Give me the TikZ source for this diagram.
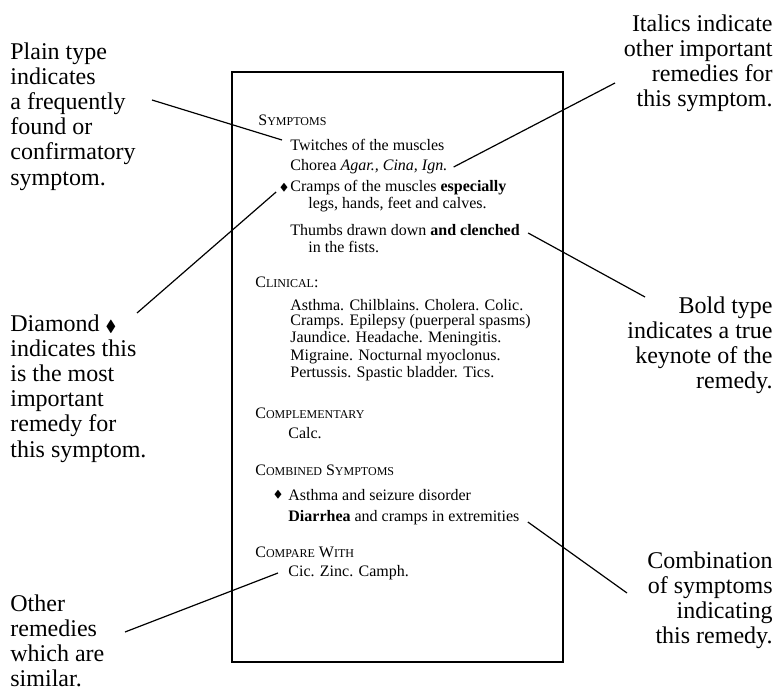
\documentclass[tikz,border=0pt]{standalone}
\usepackage{amssymb}
\usepackage{fontspec}
\setmainfont{Liberation Serif}
\newcommand\hdsc[2]{#1{\fontsize{6}{7}\selectfont #2}}
\newcommand\gem{$\scriptstyle\blacklozenge$}
\newcommand\smgem{$\scriptscriptstyle\blacklozenge$}

\begin{document}
\begin{tikzpicture}[x=0.5pt,y=-0.5pt,inner sep=0pt,
    entry/.style={anchor=west,font=\fontsize{8}{9}\selectfont},
    note/.style={anchor=north west,align=left,font=\fontsize{12}{12.6}\selectfont},
    noter/.style={anchor=north east,align=right,font=\fontsize{12}{12.6}\selectfont},
    lead/.style={line width=0.6pt}]
    \useasboundingbox (0,0) rectangle (777,689);
    % the page
    \draw[line width=1.2pt] (232,72) rectangle (563,662);
    % symptoms
    \node[entry] (symhd) at (258,120) {\hdsc{S}{YMPTOMS}};
    \node[entry] (twitch) at (290,145) {Twitches of the muscles};
    \node[entry] (chorea) at (290,167) {Chorea \textit{Agar., Cina, Ign.}};
    \node[entry] (crampdia) at (279,188) {\smgem};
    \node[entry] (cramp) at (290,188) {Cramps of the muscles \textbf{especially}};
    \node[entry] (legs) at (308,205) {legs, hands, feet and calves.};
    \node[entry] (thumb) at (290,230) {Thumbs drawn down \textbf{and clenched}};
    \node[entry] (fists) at (308,247) {in the fists.};
    % clinical
    \node[entry] (clinhd) at (255,282) {\hdsc{C}{LINICAL}:};
    \node[entry] (clina) at (290,305) {Asthma. Chilblains. Cholera. Colic.};
    \node[entry] (clinb) at (290,322) {Cramps. Epilepsy (puerperal spasms)};
    \node[entry] (clinc) at (290,339) {Jaundice. Headache. Meningitis.};
    \node[entry] (clind) at (290,357) {Migraine. Nocturnal myoclonus.};
    \node[entry] (cline) at (290,374) {Pertussis. Spastic bladder. Tics.};
    % complementary
    \node[entry] (comphd) at (255,413) {\hdsc{C}{OMPLEMENTARY}};
    \node[entry] (calc) at (288,433) {Calc.};
    % combined symptoms
    \node[entry] (combhd) at (255,470) {\hdsc{C}{OMBINED} \hdsc{S}{YMPTOMS}};
    \node[entry] (asthdia) at (273,495) {\smgem};
    \node[entry] (asth) at (288,495) {Asthma and seizure disorder};
    \node[entry] (diarr) at (288,518) {\textbf{Diarrhea} and cramps in extremities};
    % compare
    \node[entry] (cmphd) at (255,552) {\hdsc{C}{OMPARE} \hdsc{W}{ITH}};
    \node[entry] (cic) at (288,573) {Cic. Zinc. Camph.};

    % notes round the page
    \node[note] (plain) at (10,42) {Plain type\\indicates\\a frequently\\found or\\confirmatory\\symptom.};
    \node[note] (diam) at (10,314) {Diamond \gem\\indicates this\\is the most\\important\\remedy for\\this symptom.};
    \node[note] (other) at (10,594) {Other\\remedies\\which are\\similar.};
    \node[noter] (ital) at (773,14) {Italics indicate\\other important\\remedies for\\this symptom.};
    \node[noter] (bold) at (773,296) {Bold type\\indicates a true\\keynote of the\\remedy.};
    \node[noter] (combi) at (773,551) {Combination\\of symptoms\\indicating\\this remedy.};

    \coordinate (plain-end) at (152,100);
    \coordinate (diam-end) at (137,313);
    \coordinate (other-end) at (125,632);
    \coordinate (ital-end) at (615,83);
    \coordinate (bold-end) at (645,297);
    \coordinate (combi-end) at (627,593);

    \draw[lead] (plain-end) -- ([shift={(-8,-5)}]twitch.west)
      (diam-end) -- ([shift={(-8,4)}]crampdia.center)
      (other-end) -- ([xshift=-5pt]cic.west)
      (ital-end) -- ([xshift=3pt]chorea.east)
      (bold-end) -- ([shift={(8,3)}]thumb.east)
      (combi-end) -- ([shift={(8,4)}]diarr.east);
\end{tikzpicture}
\end{document}
